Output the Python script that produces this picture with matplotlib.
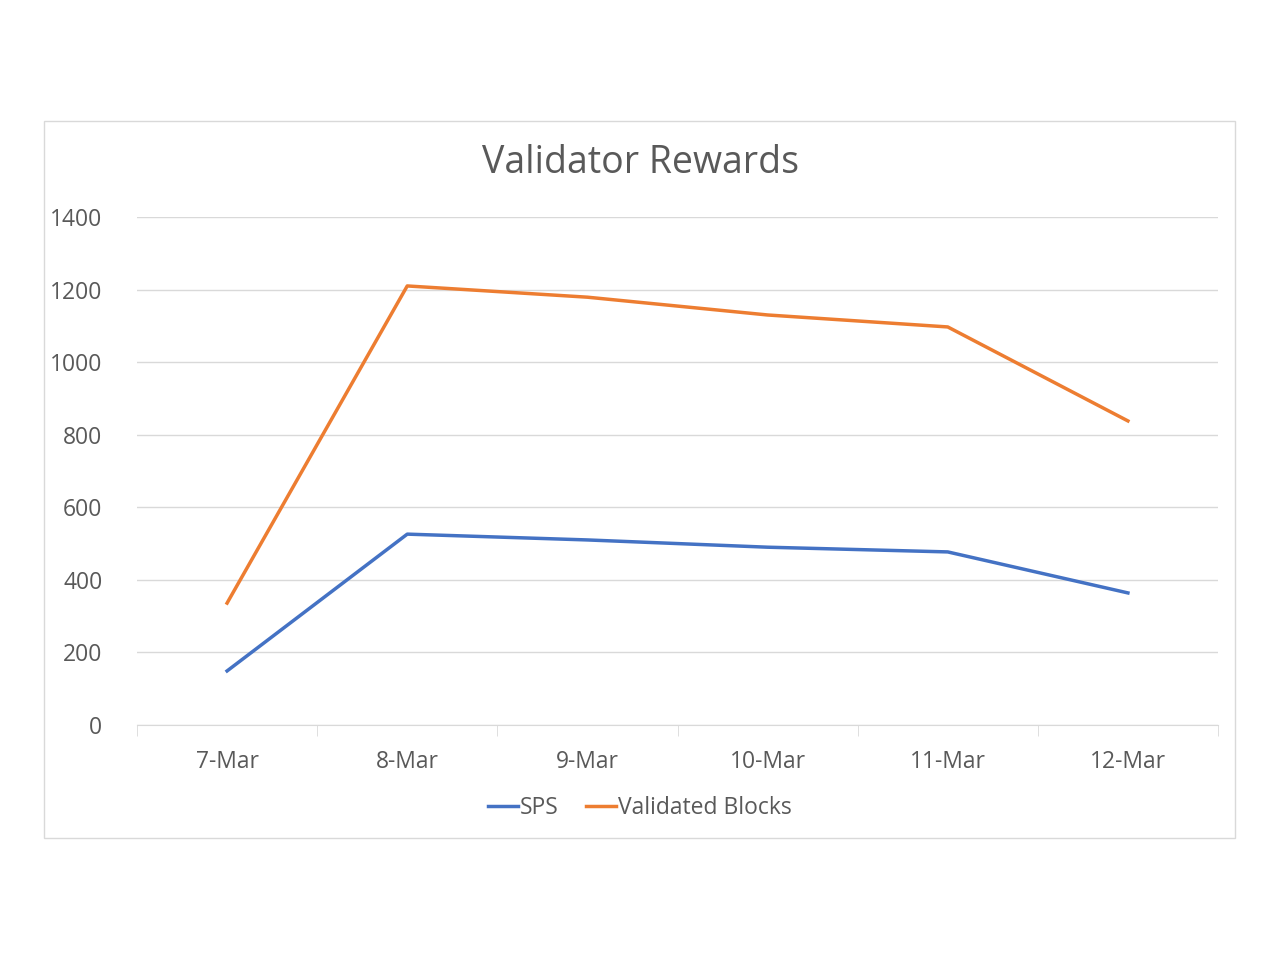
import matplotlib.pyplot as plt
from matplotlib.patches import Rectangle

dates = ['7-Mar', '8-Mar', '9-Mar', '10-Mar', '11-Mar', '12-Mar']
sps = [149, 526, 510, 490, 477, 364]
validated_blocks = [336, 1210, 1179, 1130, 1097, 838]

plt.rcParams['font.family'] = ['Open Sans', 'DejaVu Sans']
W, H = 1280, 960
fig = plt.figure(figsize=(12.8, 9.6), dpi=100)

# chart frame
fig.patches.append(Rectangle((44 / W, 1 - 838 / H), (1235 - 44) / W, (838 - 121) / H,
                             transform=fig.transFigure, fill=False, edgecolor='#d9d9d9', lw=1))

ax = fig.add_axes([137 / W, 1 - 725 / H, (1218 - 137) / W, (725 - 217) / H])
x = range(len(dates))
ax.plot(x, sps, color='#4472c4', lw=2.5, label='SPS')
ax.plot(x, validated_blocks, color='#ed7d31', lw=2.5, label='Validated Blocks')

ax.set_xlim(-0.5, len(dates) - 0.5)
ax.set_ylim(0, 1400)
ax.set_yticks(range(0, 1401, 200))
ax.set_xticks(list(x))
ax.set_xticklabels(dates)
ax.grid(axis='y', color='#d9d9d9', lw=1)
ax.set_axisbelow(True)
for s in ['top', 'right', 'left']:
    ax.spines[s].set_visible(False)
ax.spines['bottom'].set_color('#d9d9d9')
ax.tick_params(axis='y', length=0, labelsize=16.5, labelcolor='#595959', pad=25)
ax.tick_params(axis='x', length=0, labelsize=16.5, labelcolor='#595959', pad=18)
# minor ticks between categories on the x axis
ax.set_xticks([i - 0.5 for i in range(len(dates) + 1)], minor=True)
ax.tick_params(axis='x', which='minor', length=8, color='#d9d9d9', direction='out')

fig.text(640 / W, 1 - 163 / H, 'Validator Rewards', ha='center', va='center',
         fontsize=27, color='#595959')
fig.legend(loc='center', bbox_to_anchor=(640 / W, 1 - 808 / H), ncol=2, frameon=False,
           fontsize=16.5, labelcolor='#595959', handlelength=1.3, handletextpad=0.1,
           columnspacing=1.2)

fig.savefig('out.png', dpi=100)
